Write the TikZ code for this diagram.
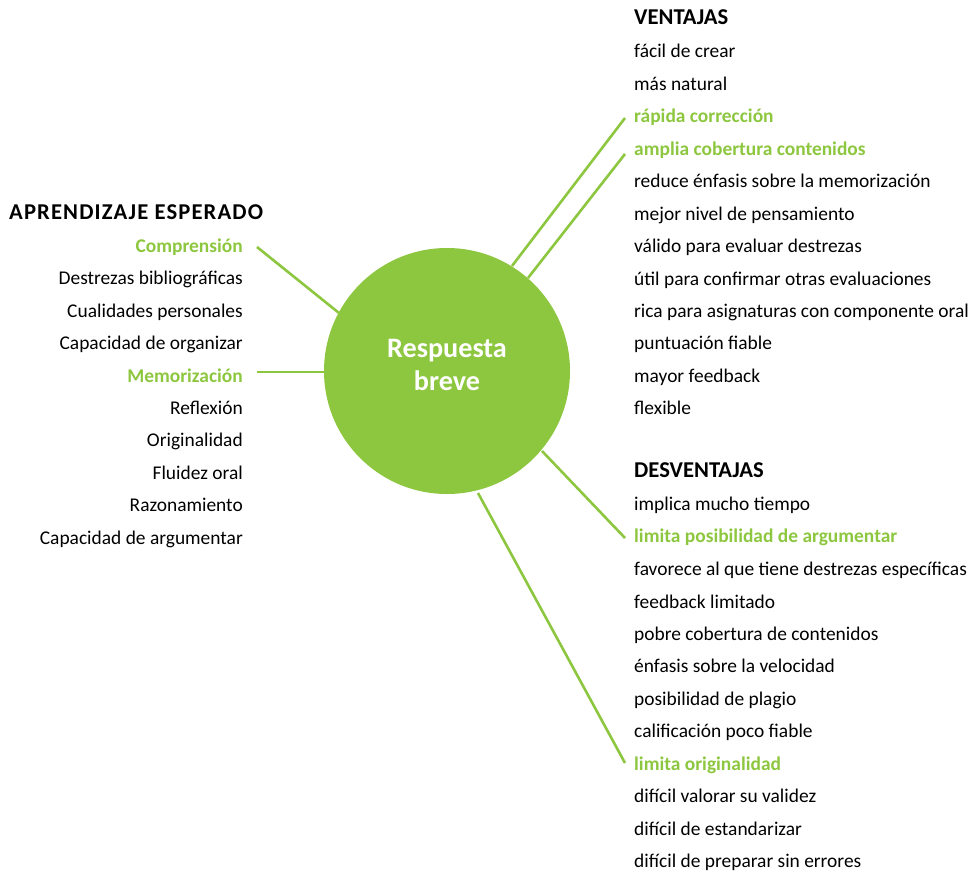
\documentclass[tikz,border=0pt]{standalone}
\usepackage{fontspec}
\setmainfont{Carlito}
\definecolor{leaf}{RGB}{141,198,63}
\begin{document}
\begin{tikzpicture}[x=1bp,y=-1bp,
  item/.style={inner sep=0pt,text height=16bp,text depth=2bp,font=\fontsize{19.5}{23}\selectfont},
  keyitem/.style={item,text=leaf,font=\fontsize{19.5}{23}\selectfont\bfseries},
  heading/.style={inner sep=0pt,text height=18bp,text depth=3.6bp,font=\fontsize{22.7}{26}\selectfont\bfseries},
  spoke/.style={draw=leaf,line width=2.6bp}]
\useasboundingbox (0,0) rectangle (971,872);

% central disc
\node (hub) [circle,fill=leaf,minimum size=246bp,inner sep=0pt] at (447,371) {};
\node (hubtext) [align=center,text=white,inner sep=0pt,
  font=\fontsize{28.3}{34}\selectfont\bfseries] at (447,365) {Respuesta\\breve};

% ventajas
\node (vh) [heading,anchor=west] at (634,17) {VENTAJAS};
\foreach \t/\y/\s [count=\i] in {
  fácil de crear/50/item,
  más natural/83/item,
  rápida corrección/115/keyitem,
  amplia cobertura contenidos/148/keyitem,
  reduce énfasis sobre la memorización/180/item,
  mejor nivel de pensamiento/213/item,
  válido para evaluar destrezas/245/item,
  útil para confirmar otras evaluaciones/278/item,
  rica para asignaturas con componente oral/310/item,
  puntuación fiable/342/item,
  mayor feedback/375/item,
  flexible/407/item}
  \node (v\i) [\s,anchor=west] at (634,\y) {\t};

% desventajas
\node (dh) [heading,anchor=west] at (634,470) {DESVENTAJAS};
\foreach \t/\y/\s [count=\i] in {
  implica mucho tiempo/503/item,
  limita posibilidad de argumentar/535/keyitem,
  favorece al que tiene destrezas específicas/568/item,
  feedback limitado/601/item,
  pobre cobertura de contenidos/633/item,
  énfasis sobre la velocidad/665/item,
  posibilidad de plagio/698/item,
  calificación poco fiable/730/item,
  limita originalidad/763/keyitem,
  difícil valorar su validez/795/item,
  difícil de estandarizar/828/item,
  difícil de preparar sin errores/860/item}
  \node (d\i) [\s,anchor=west] at (634,\y) {\t};

% aprendizaje esperado
\node (ah) [heading,anchor=west,font=\fontsize{22.7}{26}\selectfont\bfseries\addfontfeature{LetterSpace=5}]
  at (9,212) {APRENDIZAJE ESPERADO};
\foreach \t/\y/\s [count=\i] in {
  Comprensión/245/keyitem,
  Destrezas bibliográficas/277/item,
  Cualidades personales/310/item,
  Capacidad de organizar/342/item,
  Memorización/375/keyitem,
  Reflexión/407/item,
  Originalidad/439/item,
  Fluidez oral/472/item,
  Razonamiento/504/item,
  Capacidad de argumentar/537/item}
  \node (a\i) [\s,anchor=east] at (243,\y) {\t};

% spoke ends beside the labels
\coordinate (c1) at (257,247);
\coordinate (c2) at (257,372);
\coordinate (c3) at (625,118);
\coordinate (c4) at (625,154);
\coordinate (c5) at (625,538);
\coordinate (c6) at (625,763);
% spoke ends on the disc rim
\coordinate (r1) at (339,313);
\coordinate (r2) at (324,372);
\coordinate (r3) at (512,266);
\coordinate (r4) at (528,278);
\coordinate (r5) at (542,451);
\coordinate (r6) at (478,493);

\draw[spoke] (c1) -- (r1);
\draw[spoke] (c2) -- (r2);
\draw[spoke] (c3) -- (r3);
\draw[spoke] (c4) -- (r4);
\draw[spoke] (c5) -- (r5);
\draw[spoke] (c6) -- (r6);
\end{tikzpicture}
\end{document}
